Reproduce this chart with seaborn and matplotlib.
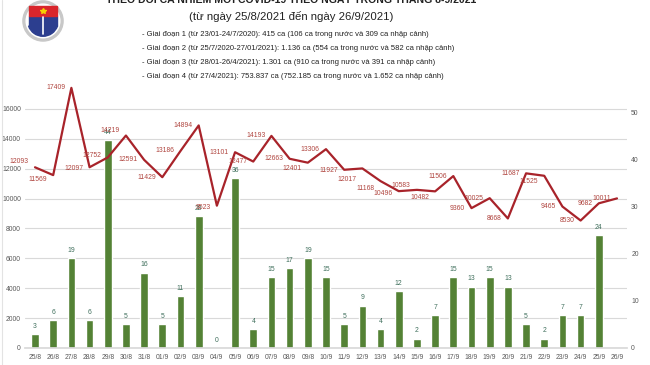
import matplotlib
matplotlib.use("Agg")
import matplotlib.pyplot as plt
import matplotlib.patches as mpatches
import seaborn as sns
import pandas as pd
import numpy as np

dates = ["25/8", "26/8", "27/8", "28/8", "29/8", "30/8", "31/8", "01/9", "02/9", "03/9", "04/9",
         "05/9", "06/9", "07/9", "08/9", "09/8", "10/9", "11/9", "12/9", "13/9", "14/9", "15/9",
         "16/9", "17/9", "18/9", "19/9", "20/9", "21/9", "22/9", "23/9", "24/9", "25/9", "26/9"]
cases = [12093, 11569, 17409, 12097, 12752, 14219, 12591, 11429, 13186, 14894, 9523,
         13101, 12477, 14193, 12663, 12401, 13306, 11927, 12017, 11168, 10496, 10583,
         10482, 11506, 9360, 10025, 8668, 11687, 11525, 9465, 8530, 9682, 10011]
deaths = [3, 6, 19, 6, 44, 5, 16, 5, 11, 28, 0,
          36, 4, 15, 17, 19, 15, 5, 9, 4, 12, 2,
          7, 15, 13, 15, 13, 5, 2, 7, 7, 24, None]

title = "THEO DÕI CA NHIỄM MỚI COVID-19 THEO NGÀY TRONG THÁNG 8-9/2021"
subtitle = "(từ ngày 25/8/2021 đến ngày 26/9/2021)"
phases = [
    "- Giai đoạn 1 (từ 23/01-24/7/2020): 415 ca (106 ca trong nước và 309 ca nhập cảnh)",
    "- Giai đoạn 2 (từ 25/7/2020-27/01/2021): 1.136 ca (554 ca trong nước và 582 ca nhập cảnh)",
    "- Giai đoạn 3 (từ 28/01-26/4/2021): 1.301 ca (910 ca trong nước và 391 ca nhập cảnh)",
    "- Giai đoạn 4 (từ 27/4/2021): 753.837 ca (752.185 ca trong nước và 1.652 ca nhập cảnh)",
]

# vertical nudge of the case labels (px, positive = down), as placed in the source
label_dy = [-6, 4, 0, 1, -2, -5, 0, 0, 0, 0, 2,
            0, 0, 0, 0, 6, 0, 1, 11, 7, 2, -4,
            6, 0, 0, 0, 0, 0, 6, 0, 0, 0, 0]

df = pd.DataFrame({"date": dates, "cases": cases, "deaths": deaths})
df["pos"] = range(len(df))

sns.set_theme(style="white")
plt.rcParams["font.family"] = ["Liberation Sans", "DejaVu Sans"]

LINE = "#a8232a"
BAR = "#548235"
GREY = "#595959"
FS = 4.9

fig = plt.figure(figsize=(6.5, 3.65), dpi=100)
# bars on the base axes (right scale), line on the twin (left scale)
axb = fig.add_axes([25 / 650, 17 / 365, 602 / 650, 266 / 365])
axl = axb.twinx()

left_max = 17800
right_max = left_max * (10 / 47.2) / (2000 / 29.9)

sns.barplot(data=df, x="date", y="deaths", color=BAR, width=0.42, ax=axb, saturation=1)
axb.set_ylim(0, right_max)
axb.set_xlim(-0.55, len(dates) - 0.45)
axb.yaxis.tick_right()
axb.yaxis.set_label_position("right")
axb.set_yticks([0, 10, 20, 30, 40, 50])
# gridlines follow the left (cases) scale
for v in range(0, 18000, 2000):
    axb.axhline(v * right_max / left_max, color="#d9d9d9", lw=0.8, zorder=0)

for i, d in enumerate(deaths):
    if d is None:
        continue
    axb.annotate(str(d), (i, d), xytext=(0, 3), textcoords="offset points",
                 ha="center", va="bottom", fontsize=FS, color="#3f6f5c")

sns.lineplot(data=df, x="pos", y="cases", color=LINE, lw=1.6, ax=axl)
axl.set_ylim(0, left_max)
axl.yaxis.tick_left()
axl.set_yticks(range(0, 18000, 2000))
for i, c in enumerate(cases):
    axl.annotate(str(c), (i, c), xytext=(-4.5, -label_dy[i] * 0.72), textcoords="offset points",
                 ha="right", va="center", fontsize=FS, color="#b0453f")

for ax in (axb, axl):
    ax.set_xlabel("")
    ax.set_ylabel("")
    for s in ax.spines.values():
        s.set_visible(False)
    ax.tick_params(length=0, labelsize=FS, colors=GREY, pad=3)
axb.set_xticks(range(len(dates)))
axb.set_xticklabels(dates)
axb.tick_params(axis="x", pad=4)
axb.spines["bottom"].set_visible(True)
axb.spines["bottom"].set_color("#d9d9d9")

# header text
fig.text(291 / 650, 1 - 3 / 365, title, ha="center", va="baseline",
         fontsize=7.6, fontweight="bold", color="#222222")
fig.text(291 / 650, 1 - 17 / 365, subtitle, ha="center", va="center",
         fontsize=8.2, color="#222222")
for k, line in enumerate(phases):
    fig.text(142 / 650, 1 - (35 + 14 * k) / 365, line, ha="left", va="center",
             fontsize=5.5, color="#222222")

# simple ministry logo
lg = fig.add_axes([18 / 650, 1 - 42 / 365, 50 / 650, 44 / 365])
lg.set_xlim(-1.15, 1.15)
lg.set_ylim(-1.1, 1.2)
lg.set_aspect("equal")
lg.axis("off")
lg.add_patch(mpatches.Circle((0, 0), 1.05, color="#c8c8c8"))
lg.add_patch(mpatches.Circle((0, 0), 0.88, color="white"))
lg.add_patch(mpatches.Wedge((0, 0), 0.8, 200, 340, color="#2c3e8f"))
lg.add_patch(mpatches.Rectangle((-0.75, -0.28), 1.5, 0.55, color="#2c3e8f"))
lg.add_patch(mpatches.Rectangle((-0.75, 0.27), 1.5, 0.5, color="#d9262c"))
lg.plot([0, 0], [-0.7, 0.2], color="white", lw=1.2)
lg.plot([0], [0.52], marker="*", color="#f5d000", ms=4)

fig.add_artist(plt.Line2D([2 / 650, 2 / 650], [0, 1], color="#e3e3e3", lw=0.8))

fig.savefig("out.png", dpi=100)
